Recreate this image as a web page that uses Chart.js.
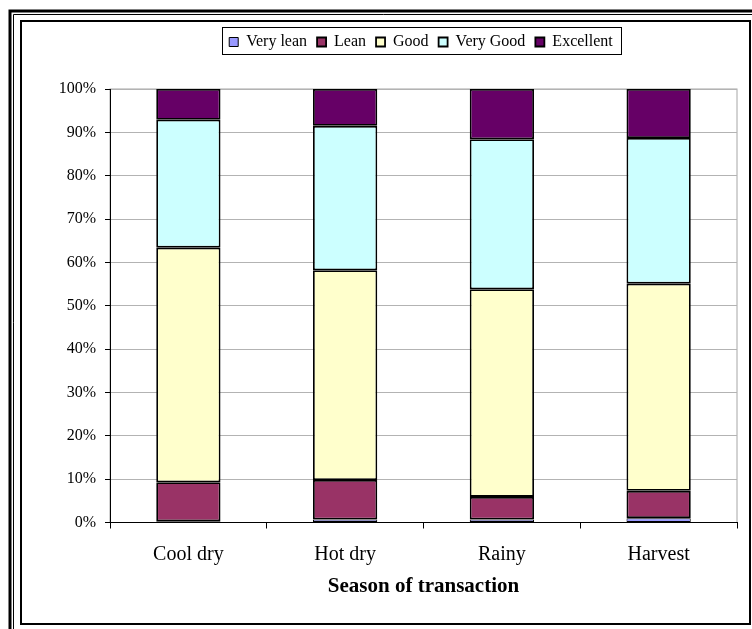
<!DOCTYPE html>
<html>
<head>
<meta charset="utf-8">
<script src="https://cdn.jsdelivr.net/npm/chart.js@4/dist/chart.umd.min.js"></script>
<style>
  html, body { margin: 0; padding: 0; background: #fff; }
  #wrap { width: 752px; height: 629px; position: relative; }
</style>
</head>
<body>
<div id="wrap"><canvas id="c" width="752" height="629"></canvas></div>
<script>
// Share of transactions by body condition, per season (percent)
const seasons   = ['Cool dry', 'Hot dry', 'Rainy', 'Harvest'];
const veryLean  = [0.3, 0.7, 0.7, 1.0];
const lean      = [9.0, 9.1, 5.2, 6.3];
const good      = [54.1, 48.4, 47.9, 47.8];
const veryGood  = [29.5, 33.3, 34.6, 33.6];
const excellent = [7.1, 8.5, 11.6, 11.3];
const yTicks    = [0, 10, 20, 30, 40, 50, 60, 70, 80, 90, 100];

const FONT = "'Liberation Serif', 'Times New Roman', serif";

function series(label, data, color, border) {
  return {
    label, data,
    backgroundColor: color,
    borderColor: '#000',
    borderWidth: border,
    borderSkipped: false,
    barPercentage: 0.41,
    categoryPercentage: 1.0
  };
}

// Double page frame, plot-area outline and the boxed legend
const framePlugin = {
  id: 'frame',
  beforeInit(chart) {
    const origFit = chart.legend.fit;
    chart.legend.fit = function () {
      origFit.call(this);
      this.height += 29;
    };
  },
  afterLayout(chart) {
    const lg = chart.legend;
    const d = 421 - (lg.left + lg.right) / 2;
    lg.left += d; lg.right += d;
  },
  beforeDraw(chart) {
    const ctx = chart.ctx;
    ctx.save();
    ctx.fillStyle = '#fff';
    ctx.fillRect(0, 0, chart.width, chart.height);
    ctx.strokeStyle = '#000';
    // outer thick line
    ctx.lineWidth = 3;
    ctx.beginPath();
    ctx.moveTo(10, 640); ctx.lineTo(10, 11); ctx.lineTo(760, 11);
    ctx.stroke();
    // outer thin line
    ctx.lineWidth = 1;
    ctx.beginPath();
    ctx.moveTo(13.5, 640); ctx.lineTo(13.5, 14.5); ctx.lineTo(760, 14.5);
    ctx.stroke();
    // inner box
    ctx.lineWidth = 2;
    ctx.strokeRect(21, 21, 729, 603);
    // plot area outline
    const a = chart.chartArea;
    ctx.strokeStyle = '#a6a6a6';
    ctx.lineWidth = 1;
    ctx.strokeRect(a.left, a.top, a.right - a.left, a.bottom - a.top);
    ctx.restore();
  },
  afterDraw(chart) {
    const boxes = chart.legend.legendHitBoxes;
    if (!boxes || !boxes.length) return;
    const first = boxes[0], last = boxes[boxes.length - 1];
    const ctx = chart.ctx;
    ctx.save();
    ctx.strokeStyle = '#000';
    ctx.lineWidth = 1;
    const x0 = Math.round(first.left) - 6.5;
    const x1 = Math.round(last.left + last.width) + 8.5;
    ctx.strokeRect(x0, 27.5, x1 - x0, 27);
    ctx.restore();
  }
};

new Chart(document.getElementById('c'), {
  type: 'bar',
  data: {
    labels: seasons,
    datasets: [
      series('Very lean', veryLean, '#9999FF', 1),
      series('Lean', lean, '#993366', 1.8),
      series('Good', good, '#FFFFCC', 1.8),
      series('Very Good', veryGood, '#CCFFFF', 1.8),
      series('Excellent', excellent, '#660066', 1.8)
    ]
  },
  options: {
    responsive: false,
    animation: false,
    layout: { padding: { left: 0, right: 15, top: 24, bottom: 0 } },
    plugins: {
      legend: {
        position: 'top',
        labels: {
          color: '#000',
          font: { family: FONT, size: 16 },
          boxWidth: 9,
          boxHeight: 9,
          padding: 10
        }
      },
      tooltip: { enabled: false }
    },
    scales: {
      x: {
        stacked: true,
        afterFit(scale) { scale.height = 106.5; },
        grid: {
          offset: true,
          drawOnChartArea: false,
          drawTicks: true,
          tickLength: 6,
          tickColor: '#000',
          color: '#000'
        },
        border: { color: '#000', width: 1 },
        ticks: {
          color: '#000',
          font: { family: FONT, size: 20 },
          padding: 14
        },
        title: {
          display: true,
          text: 'Season of transaction',
          color: '#000',
          font: { family: FONT, size: 21, weight: 'bold' },
          padding: { top: 6, bottom: 30 }
        }
      },
      y: {
        stacked: true,
        min: 0,
        max: 100,
        afterFit(scale) { scale.width = 110; },
        afterBuildTicks(scale) { scale.ticks = yTicks.map(v => ({ value: v })); },
        grid: {
          color: '#b3b3b3',
          tickColor: '#000',
          tickLength: 5,
          drawTicks: true
        },
        border: { color: '#000', width: 1 },
        ticks: {
          color: '#000',
          font: { family: FONT, size: 16 },
          padding: 9,
          callback: v => v + '%'
        }
      }
    }
  },
  plugins: [framePlugin]
});
</script>
</body>
</html>
